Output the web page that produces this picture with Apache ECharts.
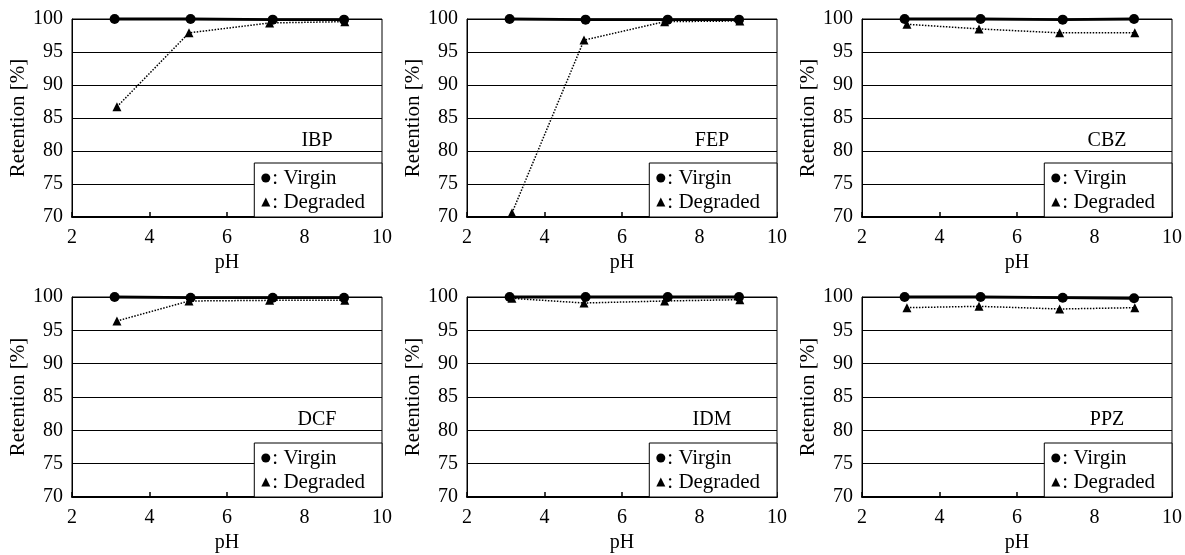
<!DOCTYPE html>
<html>
<head>
<meta charset="utf-8">
<script src="https://cdn.jsdelivr.net/npm/echarts@6/dist/echarts.min.js"></script>
<style>
  html, body { margin: 0; padding: 0; background: #fff; }
  #chart { width: 1185px; height: 555px; }
</style>
</head>
<body>
<div id="chart"></div>
<script>
// pH values of the measured points
const phVirgin = [3.1, 5.06, 7.18, 9.02];
const phDegraded = [3.16, 5.02, 7.1, 9.04];

const compounds = ['IBP', 'FEP', 'CBZ', 'DCF', 'IDM', 'PPZ'];

// retention [%] per compound
const ibpVirgin = [100, 100, 99.9, 99.9];
const ibpDegraded = [86.7, 97.9, 99.4, 99.6];
const fepVirgin = [100, 99.9, 99.9, 99.9];
const fepDegraded = [70.6, 96.8, 99.6, 99.7];
const cbzVirgin = [100, 100, 99.9, 100];
const cbzDegraded = [99.2, 98.5, 97.9, 97.9];
const dcfVirgin = [100, 99.9, 99.9, 99.9];
const dcfDegraded = [96.4, 99.4, 99.5, 99.5];
const idmVirgin = [100, 100, 100, 100];
const idmDegraded = [99.8, 99.1, 99.4, 99.6];
const ppzVirgin = [100, 100, 99.9, 99.8];
const ppzDegraded = [98.4, 98.6, 98.2, 98.4];

const xTicks = [2, 4, 6, 8, 10];
const yTicks = [70, 75, 80, 85, 90, 95, 100];

const virginSets = [ibpVirgin, fepVirgin, cbzVirgin, dcfVirgin, idmVirgin, ppzVirgin];
const degradedSets = [ibpDegraded, fepDegraded, cbzDegraded, dcfDegraded, idmDegraded, ppzDegraded];

const FONT = '"Liberation Serif", "Times New Roman", serif';
const W = 1185, H = 555;
const colLeft = [72, 467, 862];
const rowTop = [19, 297];
const plotW = 310;
const rowH = [198, 200];

const pairs = (xs, ys) => xs.map((x, i) => [x, ys[i]]);

const grids = [], xAxes = [], yAxes = [], series = [], legends = [], graphics = [];

compounds.forEach((name, i) => {
    const col = i % 3, row = Math.floor(i / 3);
    const left = colLeft[col], top = rowTop[row], h = rowH[row];
    grids.push({
        left: left, top: top, width: plotW, height: h,
        show: true, borderColor: '#000', borderWidth: 1, backgroundColor: '#fff'
    });
    xAxes.push({
        gridIndex: i, type: 'value',
        min: xTicks[0], max: xTicks[xTicks.length - 1], interval: 2,
        name: 'pH', nameLocation: 'middle', nameGap: 36,
        nameTextStyle: { fontFamily: FONT, fontSize: 20, color: '#000' },
        axisLine: { show: true, lineStyle: { color: '#000', width: 2 } },
        axisTick: { show: true, inside: true, length: 5, lineStyle: { color: '#000', width: 1.5 } },
        axisLabel: { fontFamily: FONT, fontSize: 20, color: '#000', margin: 11 },
        splitLine: { show: false }
    });
    yAxes.push({
        gridIndex: i, type: 'value',
        min: yTicks[0], max: yTicks[yTicks.length - 1], interval: 5,
        name: 'Retention [%]', nameLocation: 'middle', nameGap: 38,
        nameTextStyle: { fontFamily: FONT, fontSize: 21, color: '#000' },
        axisLine: { show: true, lineStyle: { color: '#000', width: 1 } },
        axisTick: { show: false },
        axisLabel: { fontFamily: FONT, fontSize: 20, color: '#000', margin: 9 },
        splitLine: { show: true, lineStyle: { color: '#000', width: 1.2 } }
    });
    series.push({
        name: 'Virgin', type: 'line', xAxisIndex: i, yAxisIndex: i,
        data: pairs(phVirgin, virginSets[i]),
        symbol: 'circle', symbolSize: 10, clip: false, z: 4,
        itemStyle: { color: '#000' },
        lineStyle: { color: '#000', width: 2.8 }
    });
    series.push({
        name: 'Degraded', type: 'line', xAxisIndex: i, yAxisIndex: i,
        data: pairs(phDegraded, degradedSets[i]),
        symbol: 'triangle', symbolSize: 9, clip: false, z: 3,
        itemStyle: { color: '#000' },
        lineStyle: { color: '#000', width: 1.5, type: 'dotted' }
    });
    legends.push({
        orient: 'vertical',
        right: W - (left + plotW), bottom: H - (top + h),
        data: [{ name: 'Virgin', icon: 'circle' }, { name: 'Degraded', icon: 'triangle' }],
        formatter: n => ': ' + n,
        itemWidth: 9, itemHeight: 9, itemGap: 2,
        padding: [4, 17, 4, 7],
        backgroundColor: '#fff', borderColor: '#000', borderWidth: 1, borderRadius: 0,
        selectedMode: false,
        textStyle: { fontFamily: FONT, fontSize: 21, color: '#000', lineHeight: 22, padding: [0, 0, 0, -3] }
    });
    graphics.push({
        type: 'text', x: left + 245, y: top + h * 0.615, z: 10,
        style: { text: name, font: '20px ' + FONT, fill: '#000', align: 'center', verticalAlign: 'middle' }
    });
});

const myChart = echarts.init(document.getElementById('chart'));
myChart.setOption({
    animation: false,
    backgroundColor: '#fff',
    grid: grids,
    xAxis: xAxes,
    yAxis: yAxes,
    legend: legends,
    graphic: graphics,
    series: series
});
window.addEventListener('resize', myChart.resize);
</script>
</body>
</html>
